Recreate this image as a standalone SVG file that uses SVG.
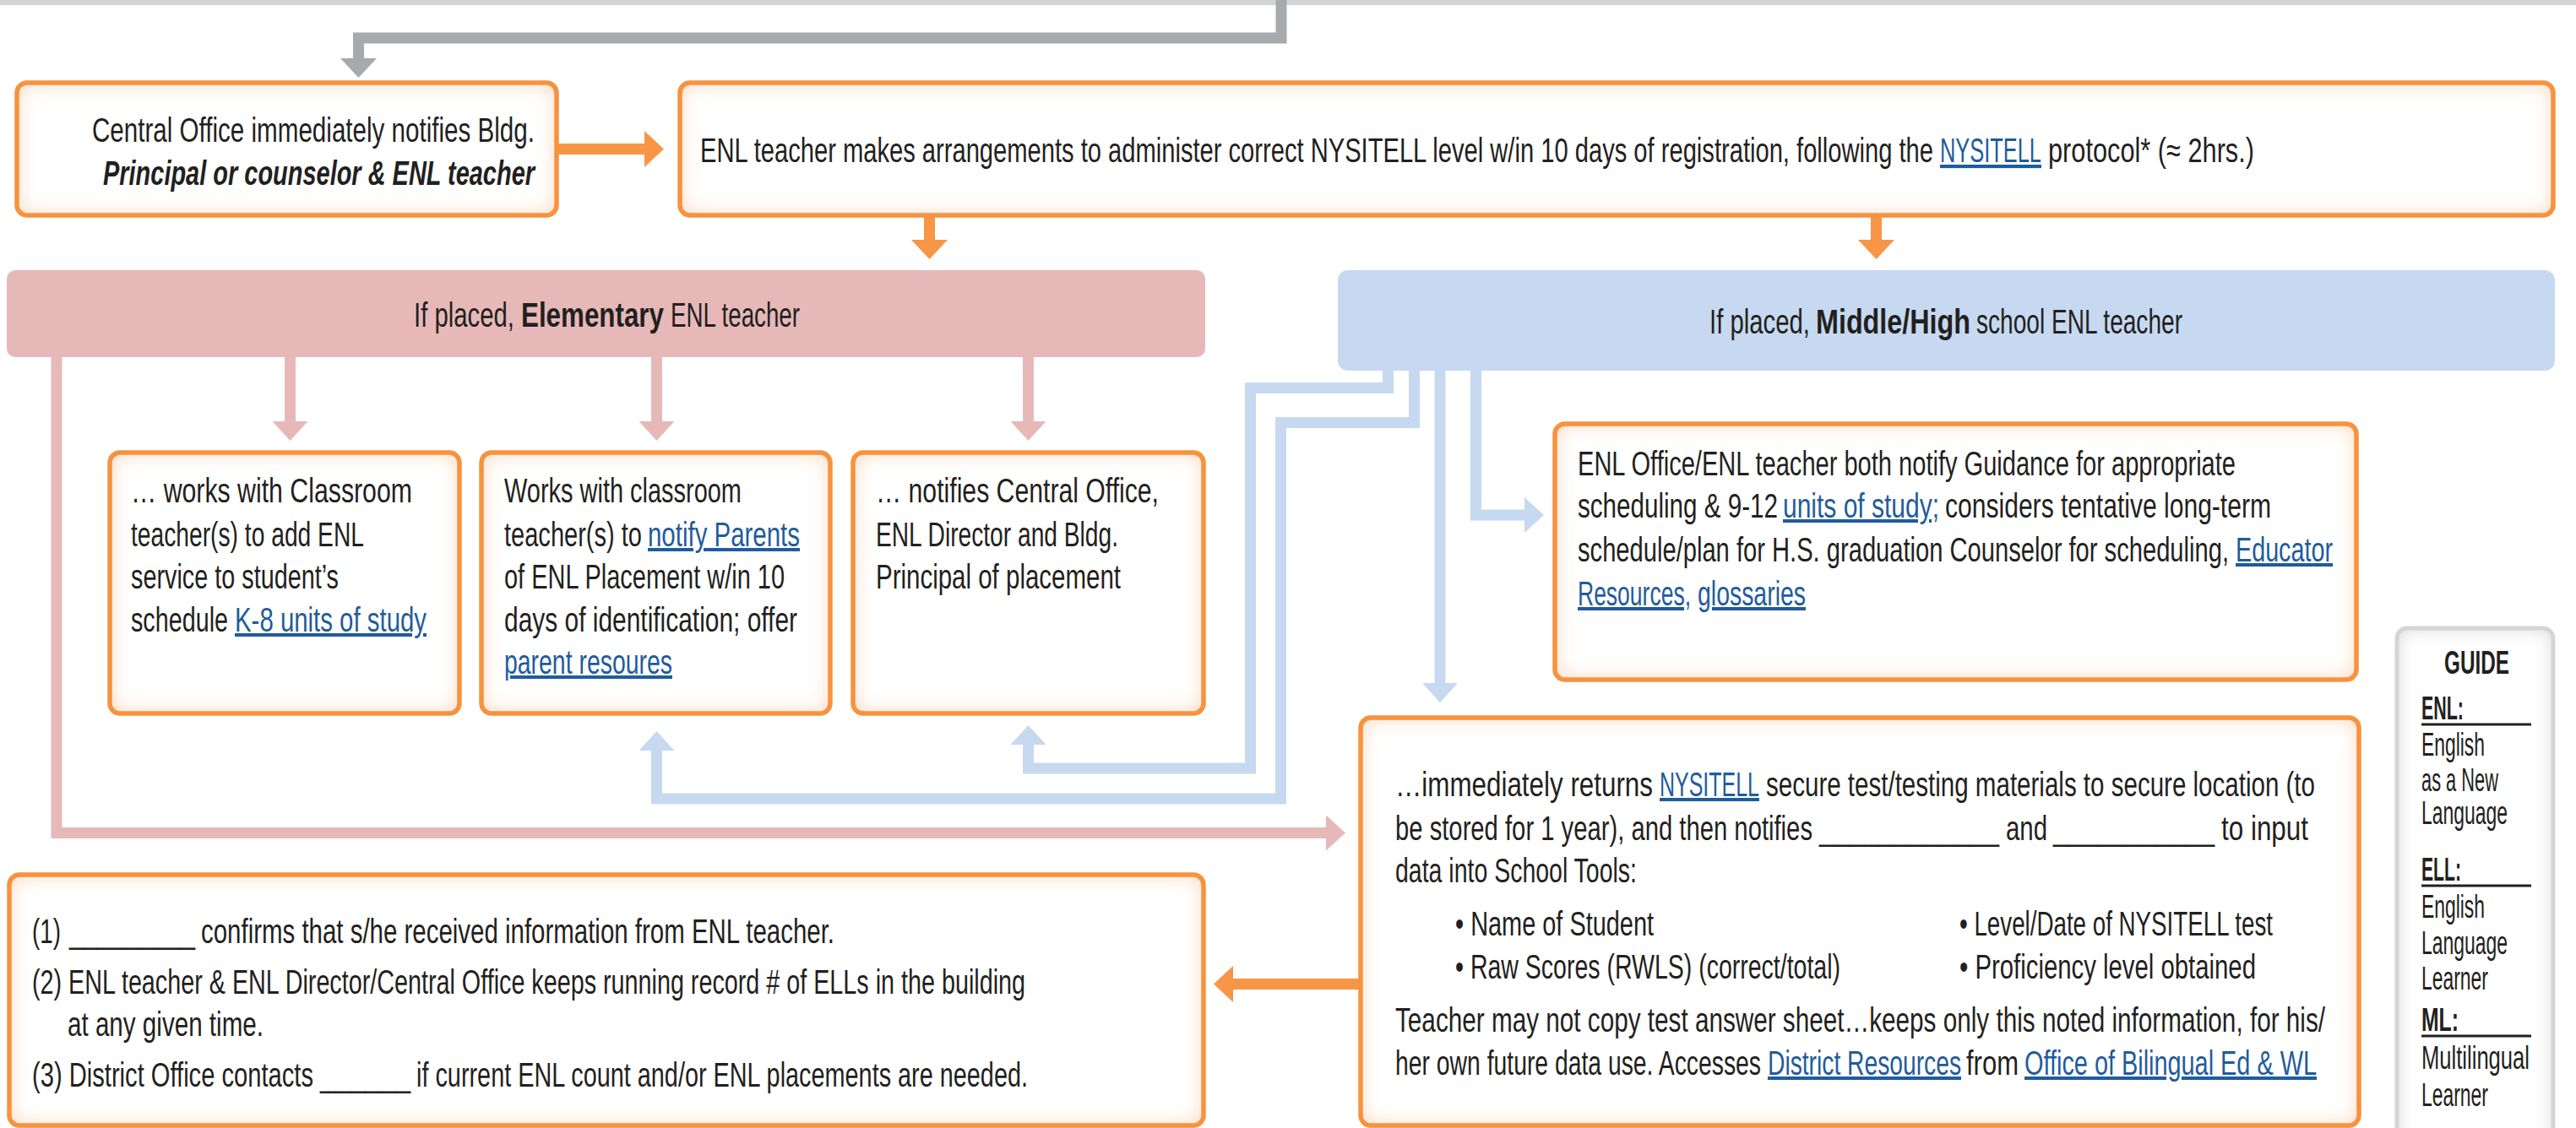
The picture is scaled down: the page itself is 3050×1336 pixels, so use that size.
<svg xmlns="http://www.w3.org/2000/svg" width="3050" height="1336" viewBox="0 0 3050 1336">
<defs>
<style>
.t{font-family:"Liberation Sans Narrow","Liberation Sans",Arial,sans-serif;font-size:40px;fill:#231f20}
.h{font-size:41px}
.g{font-size:38px}
.lk{fill:#1f5c9c;text-decoration:underline}
.b{font-weight:bold}
.bi{font-weight:bold;font-style:italic}
.fill{fill:#fff;filter:url(#glow)}
.bord{fill:none;stroke:#f7923e;stroke-width:5.5}
.gfill{fill:#fff;filter:url(#gglow)}
.gbord{fill:none;stroke:#d4d5d7;stroke-width:5}
.c{fill:none;stroke-width:13;stroke-linejoin:miter;stroke-linecap:butt}
.gr{stroke:#a7a9ac}
.or{stroke:#f79646}
.pk{stroke:#e6b9b8}
.bl{stroke:#c6d9f0}
.ul{stroke:#231f20;stroke-width:3}
</style>
<filter id="glow" x="-10%" y="-25%" width="120%" height="150%">
<feFlood flood-color="#fbcfa8"/>
<feComposite in2="SourceAlpha" operator="out"/>
<feGaussianBlur stdDeviation="12"/>
<feComposite in2="SourceAlpha" operator="in" result="in"/>
<feMerge><feMergeNode in="SourceGraphic"/><feMergeNode in="in"/></feMerge>
</filter>
<filter id="gglow" x="-25%" y="-10%" width="150%" height="120%">
<feFlood flood-color="#d2d2d2"/>
<feComposite in2="SourceAlpha" operator="out"/>
<feGaussianBlur stdDeviation="11"/>
<feComposite in2="SourceAlpha" operator="in" result="in"/>
<feMerge><feMergeNode in="SourceGraphic"/><feMergeNode in="in"/></feMerge>
</filter>
<marker id="mg" viewBox="0 0 23 43" refX="0" refY="21.5" markerWidth="23" markerHeight="43" markerUnits="userSpaceOnUse" orient="auto"><path d="M0,0 L23,21.5 L0,43 Z" fill="#a7a9ac"/></marker>
<marker id="mo" viewBox="0 0 23 43" refX="0" refY="21.5" markerWidth="23" markerHeight="43" markerUnits="userSpaceOnUse" orient="auto"><path d="M0,0 L23,21.5 L0,43 Z" fill="#f79646"/></marker>
<marker id="mp" viewBox="0 0 23 42" refX="0" refY="21" markerWidth="23" markerHeight="42" markerUnits="userSpaceOnUse" orient="auto"><path d="M0,0 L23,21 L0,42 Z" fill="#e6b9b8"/></marker>
<marker id="mb" viewBox="0 0 23 42" refX="0" refY="21" markerWidth="23" markerHeight="42" markerUnits="userSpaceOnUse" orient="auto"><path d="M0,0 L23,21 L0,42 Z" fill="#c6d9f0"/></marker>
</defs>
<rect x="0" y="0" width="3050" height="6" fill="#d1d3d4"/>

<g id="connectors">
<path class="c gr" d="M1517,0 V45 H424.5 V69" marker-end="url(#mg)"/>
<path class="c or" d="M661,176.5 H763" marker-end="url(#mo)"/>
<path class="c or" d="M1100.5,255 V284" marker-end="url(#mo)"/>
<path class="c or" d="M2221.5,255 V284" marker-end="url(#mo)"/>
<path class="c or" d="M1609,1165.5 H1460" marker-end="url(#mo)"/>
<path class="c pk" d="M343.5,420 V499" marker-end="url(#mp)"/>
<path class="c pk" d="M777.5,420 V499" marker-end="url(#mp)"/>
<path class="c pk" d="M1217.5,420 V499" marker-end="url(#mp)"/>
<path class="c pk" d="M67,420 V986.5 H1570" marker-end="url(#mp)"/>
<path class="c bl" d="M1643.5,436 V459.5 H1480.5 V910 H1217.5 V882" marker-end="url(#mb)"/>
<path class="c bl" d="M1674.5,436 V500.5 H1516.5 V946 H777.5 V889" marker-end="url(#mb)"/>
<path class="c bl" d="M1705,436 V809" marker-end="url(#mb)"/>
<path class="c bl" d="M1747.5,436 V610 H1805" marker-end="url(#mb)"/>
</g>

<g id="central-office">
<rect class="fill" x="20" y="98" width="639" height="157" rx="12"/>
<rect class="bord" x="20" y="98" width="639" height="157" rx="12"/>
<text class="t h" x="109" y="168" textLength="524" lengthAdjust="spacingAndGlyphs">Central Office immediately notifies Bldg.</text>
<text class="t h bi" x="122" y="219" textLength="511" lengthAdjust="spacingAndGlyphs">Principal or counselor &amp; ENL teacher</text>
</g>

<g id="enl-arrangements">
<rect class="fill" x="805" y="98" width="2218" height="157" rx="12"/>
<rect class="bord" x="805" y="98" width="2218" height="157" rx="12"/>
<text class="t h" x="829" y="192" textLength="1460" lengthAdjust="spacingAndGlyphs">ENL teacher makes arrangements to administer correct NYSITELL level w/in 10 days of registration, following the</text>
<text class="t h lk" x="2297" y="192" textLength="120" lengthAdjust="spacingAndGlyphs">NYSITELL</text>
<text class="t h" x="2425" y="192" textLength="244" lengthAdjust="spacingAndGlyphs">protocol* (≈ 2hrs.)</text>
</g>

<g id="elementary">
<rect x="8" y="320" width="1419" height="103" rx="10" fill="#e6b9b8"/>
<text class="t h" x="490" y="387" textLength="119" lengthAdjust="spacingAndGlyphs">If placed,</text>
<text class="t h b" x="617" y="387" textLength="169" lengthAdjust="spacingAndGlyphs">Elementary</text>
<text class="t h" x="794" y="387" textLength="153" lengthAdjust="spacingAndGlyphs">ENL teacher</text>
</g>

<g id="middle-high">
<rect x="1584" y="320" width="1441" height="119" rx="12" fill="#c6d9f0"/>
<text class="t h" x="2024" y="395" textLength="119" lengthAdjust="spacingAndGlyphs">If placed,</text>
<text class="t h b" x="2150" y="395" textLength="183" lengthAdjust="spacingAndGlyphs">Middle/High</text>
<text class="t h" x="2340" y="395" textLength="244" lengthAdjust="spacingAndGlyphs">school ENL teacher</text>
</g>

<g id="classroom-teacher">
<rect class="fill" x="130" y="536" width="414" height="309" rx="12"/>
<rect class="bord" x="130" y="536" width="414" height="309" rx="12"/>
<text class="t" x="155" y="595" textLength="333" lengthAdjust="spacingAndGlyphs">… works with Classroom</text>
<text class="t" x="155" y="647" textLength="276" lengthAdjust="spacingAndGlyphs">teacher(s) to add ENL</text>
<text class="t" x="155" y="697" textLength="246" lengthAdjust="spacingAndGlyphs">service to student’s</text>
<text class="t" x="155" y="748" textLength="115" lengthAdjust="spacingAndGlyphs">schedule</text>
<text class="t lk" x="278" y="748" textLength="227" lengthAdjust="spacingAndGlyphs">K-8 units of study</text>
</g>

<g id="notify-parents">
<rect class="fill" x="570" y="536" width="413" height="309" rx="12"/>
<rect class="bord" x="570" y="536" width="413" height="309" rx="12"/>
<text class="t" x="597" y="595" textLength="281" lengthAdjust="spacingAndGlyphs">Works with classroom</text>
<text class="t" x="597" y="647" textLength="163" lengthAdjust="spacingAndGlyphs">teacher(s) to</text>
<text class="t lk" x="767" y="647" textLength="180" lengthAdjust="spacingAndGlyphs">notify Parents</text>
<text class="t" x="597" y="697" textLength="332" lengthAdjust="spacingAndGlyphs">of ENL Placement w/in 10</text>
<text class="t" x="597" y="748" textLength="347" lengthAdjust="spacingAndGlyphs">days of identification; offer</text>
<text class="t lk" x="597" y="798" textLength="199" lengthAdjust="spacingAndGlyphs">parent resoures</text>
</g>

<g id="notify-central">
<rect class="fill" x="1010" y="536" width="415" height="309" rx="12"/>
<rect class="bord" x="1010" y="536" width="415" height="309" rx="12"/>
<text class="t" x="1037" y="595" textLength="335" lengthAdjust="spacingAndGlyphs">… notifies Central Office,</text>
<text class="t" x="1037" y="647" textLength="287" lengthAdjust="spacingAndGlyphs">ENL Director and Bldg.</text>
<text class="t" x="1037" y="697" textLength="290" lengthAdjust="spacingAndGlyphs">Principal of placement</text>
</g>

<g id="guidance">
<rect class="fill" x="1841" y="502" width="949" height="303" rx="12"/>
<rect class="bord" x="1841" y="502" width="949" height="303" rx="12"/>
<text class="t" x="1868" y="563" textLength="779" lengthAdjust="spacingAndGlyphs">ENL Office/ENL teacher both notify Guidance for appropriate</text>
<text class="t" x="1868" y="613" textLength="237" lengthAdjust="spacingAndGlyphs">scheduling &amp; 9-12</text>
<text class="t lk" x="2111" y="613" textLength="185" lengthAdjust="spacingAndGlyphs">units of study;</text>
<text class="t" x="2303" y="613" textLength="386" lengthAdjust="spacingAndGlyphs">considers tentative long-term</text>
<text class="t" x="1868" y="665" textLength="771" lengthAdjust="spacingAndGlyphs">schedule/plan for H.S. graduation Counselor for scheduling,</text>
<text class="t lk" x="2647" y="665" textLength="115" lengthAdjust="spacingAndGlyphs">Educator</text>
<text class="t lk" x="1868" y="717" textLength="134" lengthAdjust="spacingAndGlyphs">Resources,</text>
<text class="t lk" x="2010" y="717" textLength="128" lengthAdjust="spacingAndGlyphs">glossaries</text>
</g>

<g id="returns-materials">
<rect class="fill" x="1611" y="850" width="1182" height="483" rx="12"/>
<rect class="bord" x="1611" y="850" width="1182" height="483" rx="12"/>
<text class="t" x="1652" y="943" textLength="305" lengthAdjust="spacingAndGlyphs">…immediately returns</text>
<text class="t lk" x="1965" y="943" textLength="118" lengthAdjust="spacingAndGlyphs">NYSITELL</text>
<text class="t" x="2091" y="943" textLength="650" lengthAdjust="spacingAndGlyphs">secure test/testing materials to secure location (to</text>
<text class="t" x="1652" y="995" textLength="494" lengthAdjust="spacingAndGlyphs">be stored for 1 year), and then notifies</text>
<text class="t" x="2154" y="995" textLength="213" lengthAdjust="spacingAndGlyphs">____________</text>
<text class="t" x="2375" y="995" textLength="49" lengthAdjust="spacingAndGlyphs">and</text>
<text class="t" x="2431" y="995" textLength="191" lengthAdjust="spacingAndGlyphs">___________</text>
<text class="t" x="2630" y="995" textLength="103" lengthAdjust="spacingAndGlyphs">to input</text>
<text class="t" x="1652" y="1045" textLength="286" lengthAdjust="spacingAndGlyphs">data into School Tools:</text>
<text class="t" x="1723" y="1108" textLength="235" lengthAdjust="spacingAndGlyphs">• Name of Student</text>
<text class="t" x="1723" y="1159" textLength="456" lengthAdjust="spacingAndGlyphs">• Raw Scores (RWLS) (correct/total)</text>
<text class="t" x="2320" y="1108" textLength="371" lengthAdjust="spacingAndGlyphs">• Level/Date of NYSITELL test</text>
<text class="t" x="2320" y="1159" textLength="351" lengthAdjust="spacingAndGlyphs">• Proficiency level obtained</text>
<text class="t" x="1652" y="1222" textLength="1101" lengthAdjust="spacingAndGlyphs">Teacher may not copy test answer sheet…keeps only this noted information, for his/</text>
<text class="t" x="1652" y="1273" textLength="433" lengthAdjust="spacingAndGlyphs">her own future data use. Accesses</text>
<text class="t lk" x="2093" y="1273" textLength="229" lengthAdjust="spacingAndGlyphs">District Resources</text>
<text class="t" x="2328" y="1273" textLength="62" lengthAdjust="spacingAndGlyphs">from</text>
<text class="t lk" x="2397" y="1273" textLength="346" lengthAdjust="spacingAndGlyphs">Office of Bilingual Ed &amp; WL</text>
</g>

<g id="records">
<rect class="fill" x="11" y="1036" width="1414" height="297" rx="12"/>
<rect class="bord" x="11" y="1036" width="1414" height="297" rx="12"/>
<text class="t" x="38" y="1117" textLength="34" lengthAdjust="spacingAndGlyphs">(1)</text>
<text class="t" x="82" y="1117" textLength="149" lengthAdjust="spacingAndGlyphs">_________</text>
<text class="t" x="238" y="1117" textLength="750" lengthAdjust="spacingAndGlyphs">confirms that s/he received information from ENL teacher.</text>
<text class="t" x="38" y="1177" textLength="1176" lengthAdjust="spacingAndGlyphs">(2) ENL teacher &amp; ENL Director/Central Office keeps running record # of ELLs in the building</text>
<text class="t" x="80" y="1227" textLength="232" lengthAdjust="spacingAndGlyphs">at any given time.</text>
<text class="t" x="38" y="1287" textLength="333" lengthAdjust="spacingAndGlyphs">(3) District Office contacts</text>
<text class="t" x="379" y="1287" textLength="107" lengthAdjust="spacingAndGlyphs">______</text>
<text class="t" x="493" y="1287" textLength="724" lengthAdjust="spacingAndGlyphs">if current ENL count and/or ENL placements are needed.</text>
</g>

<g id="guide">
<rect class="gfill" x="2838" y="744" width="185" height="620" rx="12"/>
<rect class="gbord" x="2838" y="744" width="185" height="620" rx="12"/>
<text class="t g b" x="2894" y="798" textLength="77" lengthAdjust="spacingAndGlyphs">GUIDE</text>
<text class="t g b" x="2867" y="852" textLength="50" lengthAdjust="spacingAndGlyphs">ENL:</text>
<line class="ul" x1="2867" y1="858" x2="2997" y2="858"/>
<text class="t g" x="2867" y="895" textLength="75" lengthAdjust="spacingAndGlyphs">English</text>
<text class="t g" x="2867" y="937" textLength="91" lengthAdjust="spacingAndGlyphs">as a New</text>
<text class="t g" x="2867" y="976" textLength="102" lengthAdjust="spacingAndGlyphs">Language</text>
<text class="t g b" x="2867" y="1043" textLength="47" lengthAdjust="spacingAndGlyphs">ELL:</text>
<line class="ul" x1="2867" y1="1049" x2="2997" y2="1049"/>
<text class="t g" x="2867" y="1087" textLength="75" lengthAdjust="spacingAndGlyphs">English</text>
<text class="t g" x="2867" y="1130" textLength="102" lengthAdjust="spacingAndGlyphs">Language</text>
<text class="t g" x="2867" y="1172" textLength="79" lengthAdjust="spacingAndGlyphs">Learner</text>
<text class="t g b" x="2867" y="1221" textLength="44" lengthAdjust="spacingAndGlyphs">ML:</text>
<line class="ul" x1="2867" y1="1227" x2="2997" y2="1227"/>
<text class="t g" x="2867" y="1266" textLength="128" lengthAdjust="spacingAndGlyphs">Multilingual</text>
<text class="t g" x="2867" y="1310" textLength="79" lengthAdjust="spacingAndGlyphs">Learner</text>
</g>
</svg>
